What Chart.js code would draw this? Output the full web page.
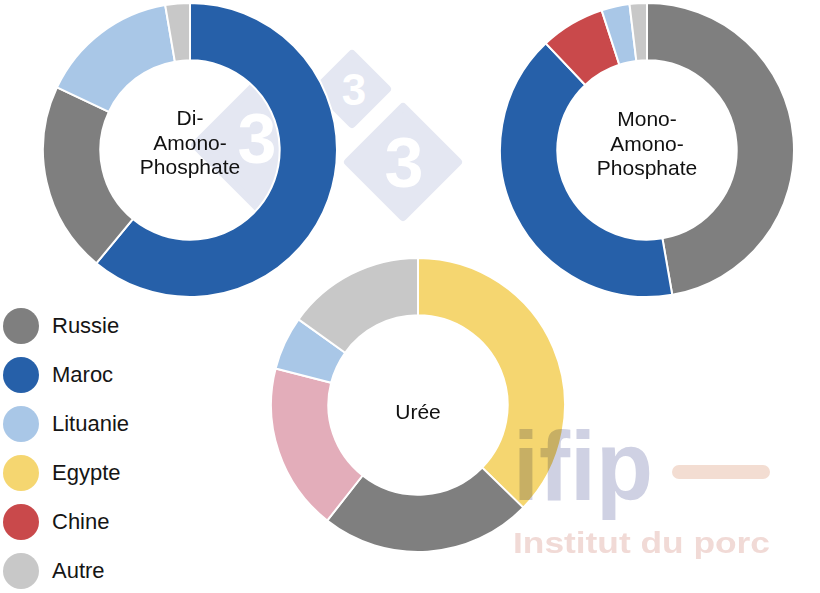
<!DOCTYPE html>
<html>
<head>
<meta charset="utf-8">
<script src="https://cdn.jsdelivr.net/npm/chart.js@4"></script>
<style>
  body { margin: 0; width: 820px; height: 593px; position: relative; overflow: hidden; background: #fff;
         font-family: "Liberation Sans", Arial, sans-serif; }
  .layer { position: absolute; left: 0; top: 0; pointer-events: none; }
  canvas.ring { position: absolute; }
  #legend { position: absolute; left: 3px; top: 308px; }
  .item { position: relative; height: 49px; }
  .dot { position: absolute; left: 0; top: 0; width: 36px; height: 36px; border-radius: 50%; }
  .lbl { position: absolute; left: 49px; top: 5px; font-size: 22px; color: #151515; white-space: nowrap; }
</style>
</head>
<body>

<!-- faint logo marks behind the rings -->
<svg class="layer" width="820" height="593" style="z-index:0">
  <g fill="#e4e7f2" stroke="#e4e7f2" stroke-width="8" stroke-linejoin="round">
    <polygon points="257,83 319,145 257,207 195,145"/>
    <polygon points="352,54 387,89 352,124 317,89"/>
    <polygon points="403,107 458,162 403,217 348,162"/>
  </g>
  <g fill="#fff" font-family="Liberation Sans, Arial" font-weight="bold" text-anchor="middle">
    <text x="257" y="163" font-size="70">3</text>
    <text x="354" y="105" font-size="44">3</text>
    <text x="404" y="187" font-size="70">3</text>
  </g>
</svg>

<canvas id="dap" class="ring" width="296" height="296" style="left:42px;top:2px;z-index:1"></canvas>
<canvas id="map" class="ring" width="296" height="296" style="left:499px;top:2px;z-index:1"></canvas>
<canvas id="uree" class="ring" width="296" height="296" style="left:270px;top:257px;z-index:1"></canvas>

<div id="legend"></div>

<!-- ifip watermark over the charts -->
<svg class="layer" width="820" height="593" style="z-index:2;mix-blend-mode:multiply">
  <text x="513" y="500" font-family="Liberation Sans, Arial" font-weight="bold" font-size="98"
        fill="#cfd1e3" textLength="140" lengthAdjust="spacingAndGlyphs">ifip</text>
  <rect x="672" y="465" width="98" height="14" rx="7" fill="#f3ddd2"/>
  <text x="513" y="553" font-family="Liberation Sans, Arial" font-weight="bold" font-size="29"
        fill="#f1dad6" textLength="257" lengthAdjust="spacingAndGlyphs">Institut du porc</text>
</svg>

<script>
// legend
const categories = ['Russie', 'Maroc', 'Lituanie', 'Egypte', 'Chine', 'Autre'];
const categoryColors = ['#7f7f7f', '#2660a9', '#a9c7e7', '#f5d670', '#c9494b', '#c8c8c8'];

// Di-Amono-Phosphate, slices clockwise from the top (%)
const dapLabels = ['Maroc', 'Russie', 'Lituanie', 'Autre'];
const dapValues = [61.0, 21.0, 15.3, 2.7];

// Mono-Amono-Phosphate (%)
const mapLabels = ['Russie', 'Maroc', 'Chine', 'Lituanie', 'Autre'];
const mapValues = [47.3, 40.7, 7.1, 3.1, 1.9];

// Urée (%) - the pink slice has no legend entry
const ureeLabels = ['Egypte', 'Russie', '(sans légende)', 'Lituanie', 'Autre'];
const ureeValues = [37.3, 23.3, 18.4, 5.9, 15.1];
const unlistedColor = '#e3adba';

const colorOf = name => {
  const i = categories.indexOf(name);
  return i >= 0 ? categoryColors[i] : unlistedColor;
};

const centerText = {
  id: 'centerText',
  afterDraw(chart, args, opts) {
    const arc = chart.getDatasetMeta(0).data[0];
    if (!arc) return;
    const ctx = chart.ctx;
    ctx.save();
    ctx.font = '21px "Liberation Sans", Arial, sans-serif';
    ctx.fillStyle = '#111';
    ctx.textAlign = 'center';
    ctx.textBaseline = 'alphabetic';
    opts.lines.forEach((line, i) => {
      ctx.fillText(line, arc.x, arc.y + opts.first + i * 24.5);
    });
    ctx.restore();
  }
};

function ring(id, labels, values, lines, first) {
  new Chart(document.getElementById(id), {
    type: 'doughnut',
    data: {
      labels: labels,
      datasets: [{
        data: values,
        backgroundColor: labels.map(colorOf),
        borderColor: '#ffffff',
        borderWidth: 2,
        hoverOffset: 0
      }]
    },
    options: {
      responsive: false,
      animation: false,
      cutout: '61%',
      layout: { padding: 0 },
      plugins: {
        legend: { display: false },
        tooltip: { enabled: false },
        centerText: { lines: lines, first: first }
      }
    },
    plugins: [centerText]
  });
}

ring('dap', dapLabels, dapValues, ['Di-', 'Amono-', 'Phosphate'], -25);
ring('map', mapLabels, mapValues, ['Mono-', 'Amono-', 'Phosphate'], -24);
ring('uree', ureeLabels, ureeValues, ['Urée'], 14);

const legend = document.getElementById('legend');
categories.forEach((name, i) => {
  const row = document.createElement('div');
  row.className = 'item';
  row.innerHTML = '<div class="dot" style="background:' + categoryColors[i] + '"></div>' +
                  '<div class="lbl">' + name + '</div>';
  legend.appendChild(row);
});
</script>
</body>
</html>
